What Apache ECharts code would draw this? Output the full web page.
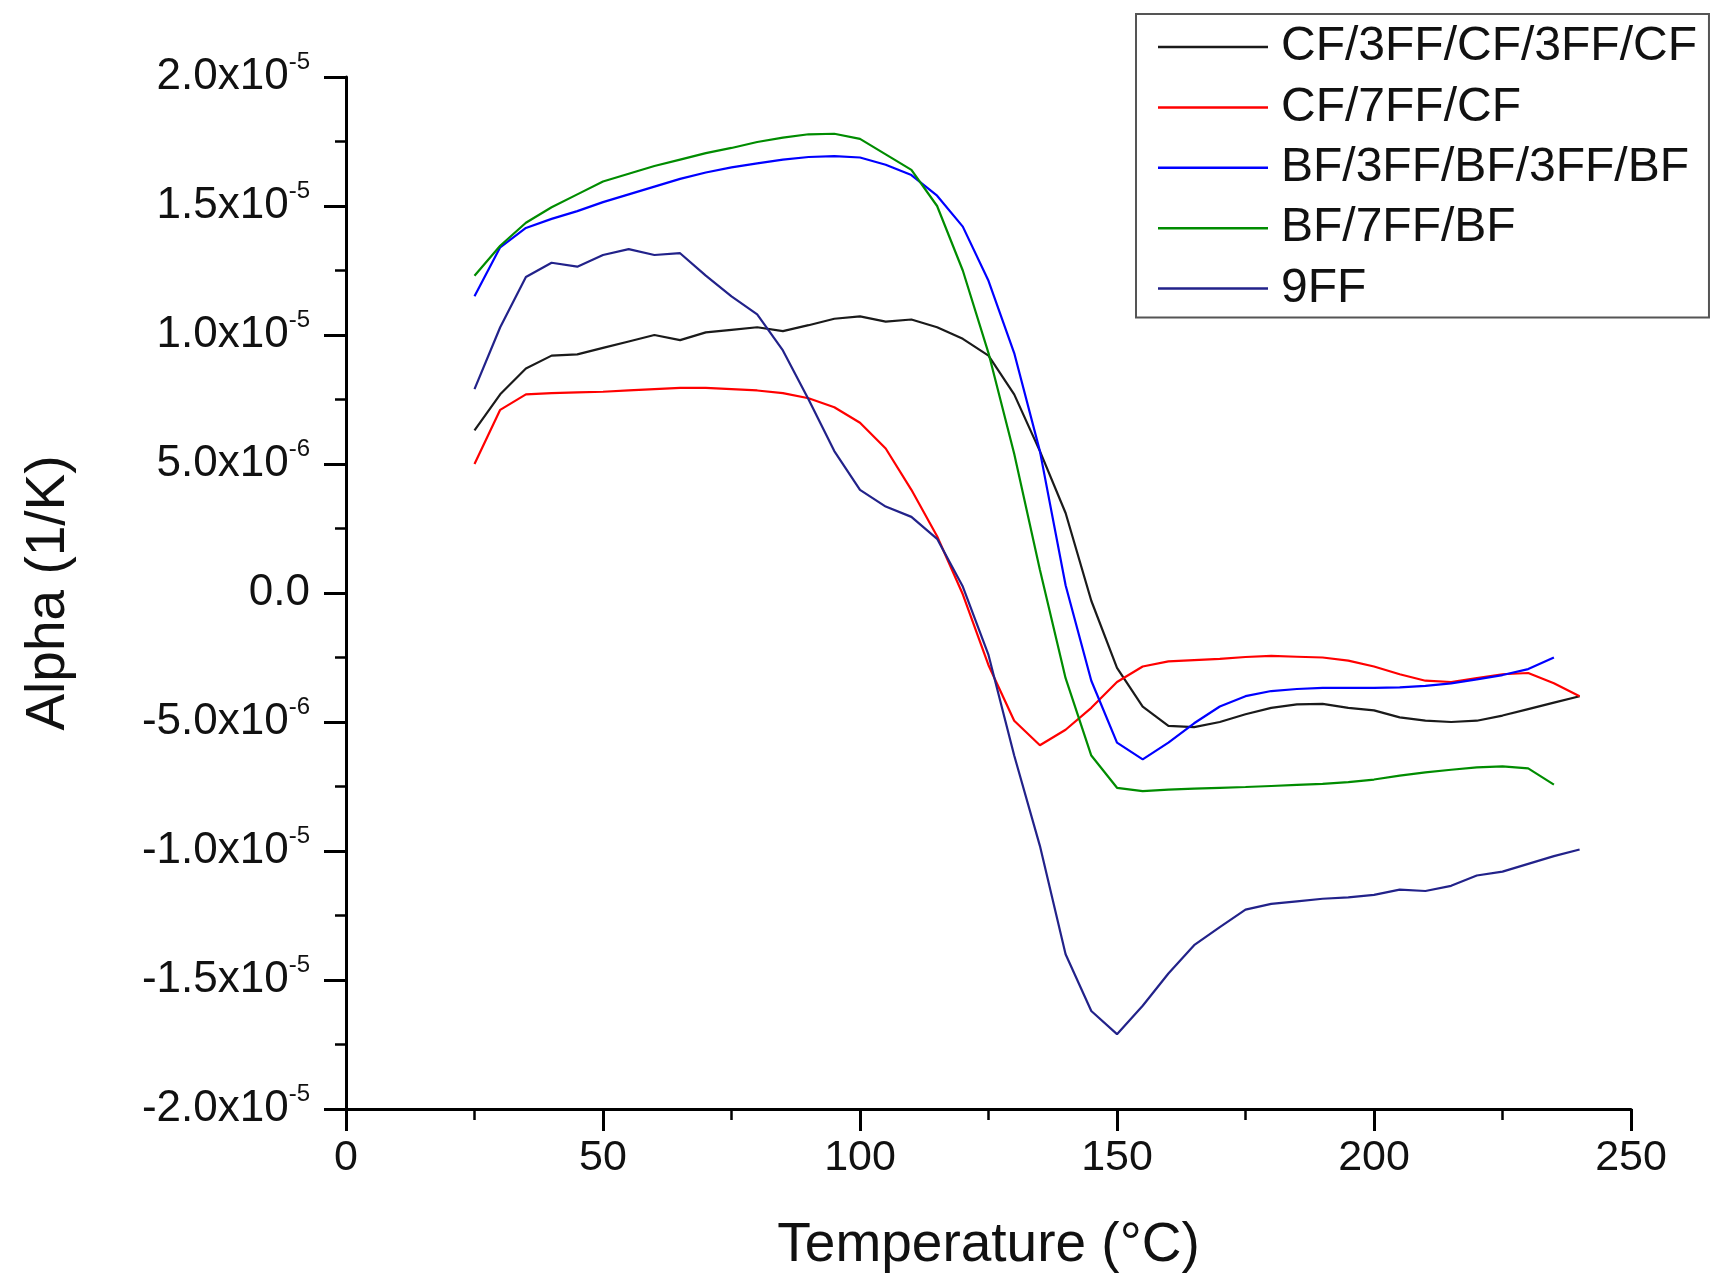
<!DOCTYPE html>
<html>
<head>
<meta charset="utf-8">
<title>Alpha vs Temperature</title>
<script src="https://cdn.jsdelivr.net/npm/echarts@6/dist/echarts.min.js"></script>
<style>
  html, body { margin: 0; padding: 0; background: #fff; }
  #chart { width: 1716px; height: 1278px; }
</style>
</head>
<body>
<div id="chart"></div>
<script>
// temperature in °C, one reading every 5 degrees
const temps = [25, 30, 35, 40, 45, 50, 55, 60, 65, 70, 75, 80, 85, 90, 95, 100, 105, 110, 115, 120,
  125, 130, 135, 140, 145, 150, 155, 160, 165, 170, 175, 180, 185, 190, 195, 200, 205, 210, 215, 220,
  225, 230, 235, 240];

// alpha values, in units of 1e-6 1/K
const cf3ffcf = [6.3, 7.7, 8.7, 9.2, 9.25, 9.5, 9.75, 10.0, 9.8, 10.1, 10.2, 10.3, 10.15, 10.38, 10.63, 10.72, 10.52, 10.6, 10.3, 9.85,
  9.2, 7.7, 5.5, 3.1, -0.3, -2.9, -4.4, -5.15, -5.2, -5.0, -4.7, -4.45, -4.32, -4.3, -4.45, -4.55, -4.82, -4.95, -5.0, -4.95,
  -4.75, -4.5, -4.25, -4.0];
const cf7ff = [5.0, 7.1, 7.7, 7.75, 7.78, 7.8, 7.85, 7.9, 7.95, 7.95, 7.9, 7.85, 7.75, 7.55, 7.2, 6.6, 5.6, 4.0, 2.2, -0.05,
  -2.8, -4.95, -5.9, -5.3, -4.45, -3.45, -2.85, -2.65, -2.6, -2.55, -2.48, -2.44, -2.47, -2.5, -2.62, -2.85, -3.15, -3.4, -3.45, -3.3,
  -3.15, -3.1, -3.5, -4.0];
const bf3ffbf = [11.5, 13.4, 14.15, 14.5, 14.8, 15.15, 15.45, 15.75, 16.05, 16.3, 16.5, 16.65, 16.8, 16.9, 16.93, 16.88, 16.6, 16.2, 15.4, 14.2,
  12.1, 9.3, 5.5, 0.3, -3.4, -5.8, -6.45, -5.8, -5.05, -4.4, -4.0, -3.8, -3.72, -3.68, -3.68, -3.68, -3.66, -3.6, -3.5, -3.35,
  -3.18, -2.95, -2.5];
const bf7ff = [12.3, 13.46, 14.35, 14.95, 15.45, 15.95, 16.25, 16.55, 16.8, 17.05, 17.25, 17.48, 17.65, 17.78, 17.8, 17.6, 17.0, 16.4, 15.0, 12.5,
  9.3, 5.4, 0.9, -3.3, -6.3, -7.55, -7.68, -7.62, -7.58, -7.55, -7.52, -7.48, -7.44, -7.4, -7.33, -7.23, -7.08, -6.95, -6.85, -6.76,
  -6.72, -6.8, -7.43];
const ff9 = [7.9, 10.3, 12.25, 12.8, 12.65, 13.1, 13.33, 13.1, 13.17, 12.3, 11.5, 10.8, 9.4, 7.5, 5.5, 4.0, 3.35, 2.95, 2.1, 0.25,
  -2.4, -6.3, -9.8, -14.0, -16.2, -17.1, -16.0, -14.75, -13.65, -12.95, -12.27, -12.05, -11.95, -11.85, -11.8, -11.7, -11.5, -11.55, -11.35, -10.95,
  -10.8, -10.5, -10.2, -9.94];

const seriesNames = ['CF/3FF/CF/3FF/CF', 'CF/7FF/CF', 'BF/3FF/BF/3FF/BF', 'BF/7FF/BF', '9FF'];
const seriesValues = [cf3ffcf, cf7ff, bf3ffbf, bf7ff, ff9];
const seriesColors = ['#1a1a1a', '#ff0000', '#0000ff', '#008c00', '#22228a'];

// y tick labels (value in 1e-6 units -> mantissa and power of ten)
const yTickLabels = [
  { value: 20, base: '2.0x10', exp: '-5' },
  { value: 15, base: '1.5x10', exp: '-5' },
  { value: 10, base: '1.0x10', exp: '-5' },
  { value: 5, base: '5.0x10', exp: '-6' },
  { value: 0, base: '0.0', exp: '' },
  { value: -5, base: '-5.0x10', exp: '-6' },
  { value: -10, base: '-1.0x10', exp: '-5' },
  { value: -15, base: '-1.5x10', exp: '-5' },
  { value: -20, base: '-2.0x10', exp: '-5' }
];

const chart = echarts.init(document.getElementById('chart'));
const font = 'Liberation Sans, Arial, sans-serif';

chart.setOption({
  backgroundColor: '#fff',
  animation: false,
  grid: { left: 346, right: 85, top: 77, bottom: 167 },
  legend: {
    orient: 'vertical',
    left: 1136,
    top: 14,
    padding: [8, 12, 4, 22],
    icon: 'rect',
    itemWidth: 110,
    itemHeight: 2.5,
    itemGap: 10.4,
    borderColor: '#555',
    borderWidth: 2,
    data: seriesNames,
    textStyle: {
      fontFamily: font,
      fontSize: 48,
      lineHeight: 50,
      color: '#111',
      padding: [0, 0, 0, 8]
    }
  },
  xAxis: {
    type: 'value',
    min: 0,
    max: 250,
    interval: 50,
    name: 'Temperature (°C)',
    nameLocation: 'middle',
    nameGap: 109,
    nameTextStyle: { fontFamily: font, fontSize: 55, color: '#111' },
    axisLine: { onZero: false, lineStyle: { color: '#000', width: 3 } },
    axisTick: { length: 22, lineStyle: { width: 3, color: '#000' } },
    minorTick: { show: true, splitNumber: 2, length: 11, lineStyle: { width: 2.5, color: '#000' } },
    splitLine: { show: false },
    axisLabel: { fontFamily: font, fontSize: 43, color: '#111', margin: 28 }
  },
  yAxis: {
    type: 'value',
    min: -20,
    max: 20,
    interval: 5,
    name: 'Alpha (1/K)',
    nameLocation: 'middle',
    nameRotate: 90,
    nameGap: 270,
    nameTextStyle: { fontFamily: font, fontSize: 55, color: '#111' },
    axisLine: { onZero: false, lineStyle: { color: '#000', width: 3 } },
    axisTick: { length: 22, lineStyle: { width: 3, color: '#000' } },
    minorTick: { show: true, splitNumber: 2, length: 11, lineStyle: { width: 2.5, color: '#000' } },
    splitLine: { show: false },
    axisLabel: {
      margin: 36,
      formatter: function (v) {
        const t = yTickLabels.find(function (d) { return Math.abs(d.value - v) < 1e-9; });
        if (!t) return '';
        return t.exp ? '{b|' + t.base + '}{s|' + t.exp + '}' : '{b|' + t.base + '}';
      },
      rich: {
        b: { fontFamily: font, fontSize: 44, color: '#111' },
        s: { fontFamily: font, fontSize: 24, color: '#111', padding: [0, 0, 30, 0] }
      }
    }
  },
  series: seriesNames.map(function (name, i) {
    return {
      name: name,
      type: 'line',
      symbol: 'none',
      color: seriesColors[i],
      lineStyle: { width: 2.2, color: seriesColors[i] },
      data: seriesValues[i].map(function (v, j) { return [temps[j], v]; })
    };
  })
});
</script>
</body>
</html>
